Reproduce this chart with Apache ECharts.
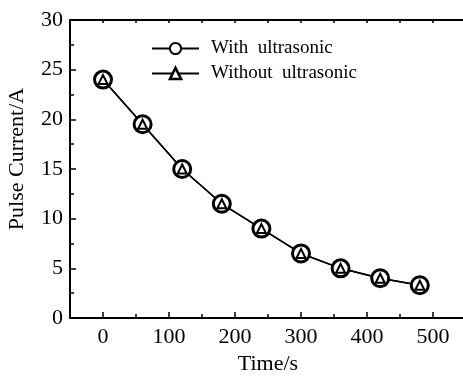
<!DOCTYPE html>
<html>
	<head>
		<meta charset="UTF-8">
		<title>Pulse Current</title>
		<script src="https://cdn.jsdelivr.net/npm/echarts@6/dist/echarts.min.js"></script>
		<style>
			html, body { margin: 0; padding: 0; background: #fff; }
			#chart { width: 463px; height: 383px; }
		</style>
	</head>
	<body>
		<div id="chart"></div>
		<script type="text/javascript">
			// 数据
			var times = [0, 60, 120, 180, 240, 300, 360, 420, 480];
			var withUltrasonic = [24, 19.5, 15, 11.5, 9, 6.5, 5, 4, 3.3];
			var withoutUltrasonic = [24, 19.5, 15, 11.5, 9, 6.5, 5, 4, 3.3];
			var xTicks = [0, 100, 200, 300, 400, 500];
			var xMinorTicks = [50, 150, 250, 350, 450];
			var seriesNames = ['With  ultrasonic', 'Without  ultrasonic'];

			function pairs(ys) {
				return times.map(function (t, i) { return [t, ys[i]]; });
			}

			var font = 'Liberation Serif';
			var myChart = echarts.init(document.getElementById('chart'));

			var option = {
				animation: false,
				backgroundColor: '#fff',
				grid: { left: 70, top: 20, bottom: 65, right: -3, outerBoundsMode: 'none', containLabel: false },
				legend: {
					orient: 'vertical',
					left: 146,
					top: 34,
					itemWidth: 47,
					itemHeight: 14,
					itemGap: 6,
					textStyle: { fontFamily: font, fontSize: 19, color: '#000', padding: [0, 0, 0, 7] },
					data: [
						{ name: seriesNames[0], itemStyle: { borderWidth: 2 } },
						{ name: seriesNames[1], itemStyle: { borderWidth: 2.5 } }
					]
				},
				xAxis: [{
					type: 'value',
					min: -50,
					max: 550,
					name: 'Time/s',
					nameLocation: 'middle',
					nameGap: 28,
					nameTextStyle: { fontFamily: font, fontSize: 22, color: '#000' },
					splitLine: { show: false },
					axisLine: { onZero: false, lineStyle: { color: '#000', width: 2 } },
					axisTick: { inside: true, length: 6, customValues: xTicks, lineStyle: { color: '#000', width: 1.5 } },
					axisLabel: { customValues: xTicks, fontFamily: font, fontSize: 22, color: '#000', margin: 8 }
				}, {
					type: 'value',
					position: 'bottom',
					min: -50,
					max: 550,
					splitLine: { show: false },
					axisLine: { show: false, onZero: false },
					axisTick: { inside: true, length: 4, customValues: xMinorTicks, lineStyle: { color: '#000', width: 1.5 } },
					axisLabel: { show: false }
				}, {
					type: 'value',
					position: 'top',
					min: -50,
					max: 550,
					splitLine: { show: false },
					axisLine: { onZero: false, lineStyle: { color: '#000', width: 2 } },
					axisTick: { inside: true, length: 3, customValues: xTicks.concat(xMinorTicks), lineStyle: { color: '#000', width: 1.5 } },
					axisLabel: { show: false }
				}],
				yAxis: {
					type: 'value',
					min: 0,
					max: 30,
					interval: 5,
					name: 'Pulse Current/A',
					nameLocation: 'middle',
					nameGap: 42,
					nameTextStyle: { fontFamily: font, fontSize: 22, color: '#000', padding: [0, 0, 0, 20] },
					splitLine: { show: false },
					axisLine: { show: true, onZero: false, lineStyle: { color: '#000', width: 2 } },
					axisTick: { show: true, inside: true, length: 6, lineStyle: { color: '#000', width: 1.5 } },
					minorTick: { show: true, splitNumber: 2, length: 4, lineStyle: { color: '#000', width: 1.5 } },
					axisLabel: { fontFamily: font, fontSize: 22, color: '#000', margin: 7 }
				},
				series: [{
					name: seriesNames[0],
					type: 'line',
					data: pairs(withUltrasonic),
					symbol: 'circle',
					symbolSize: 17,
					lineStyle: { color: '#000', width: 1.5 },
					itemStyle: { color: '#fff', borderColor: '#000', borderWidth: 3 }
				}, {
					name: seriesNames[1],
					type: 'line',
					data: pairs(withoutUltrasonic),
					symbol: 'triangle',
					symbolSize: 9,
					lineStyle: { color: '#000', width: 1.5 },
					itemStyle: { color: '#fff', borderColor: '#000', borderWidth: 2 }
				}]
			};
			myChart.setOption(option);
		</script>
	</body>
</html>
